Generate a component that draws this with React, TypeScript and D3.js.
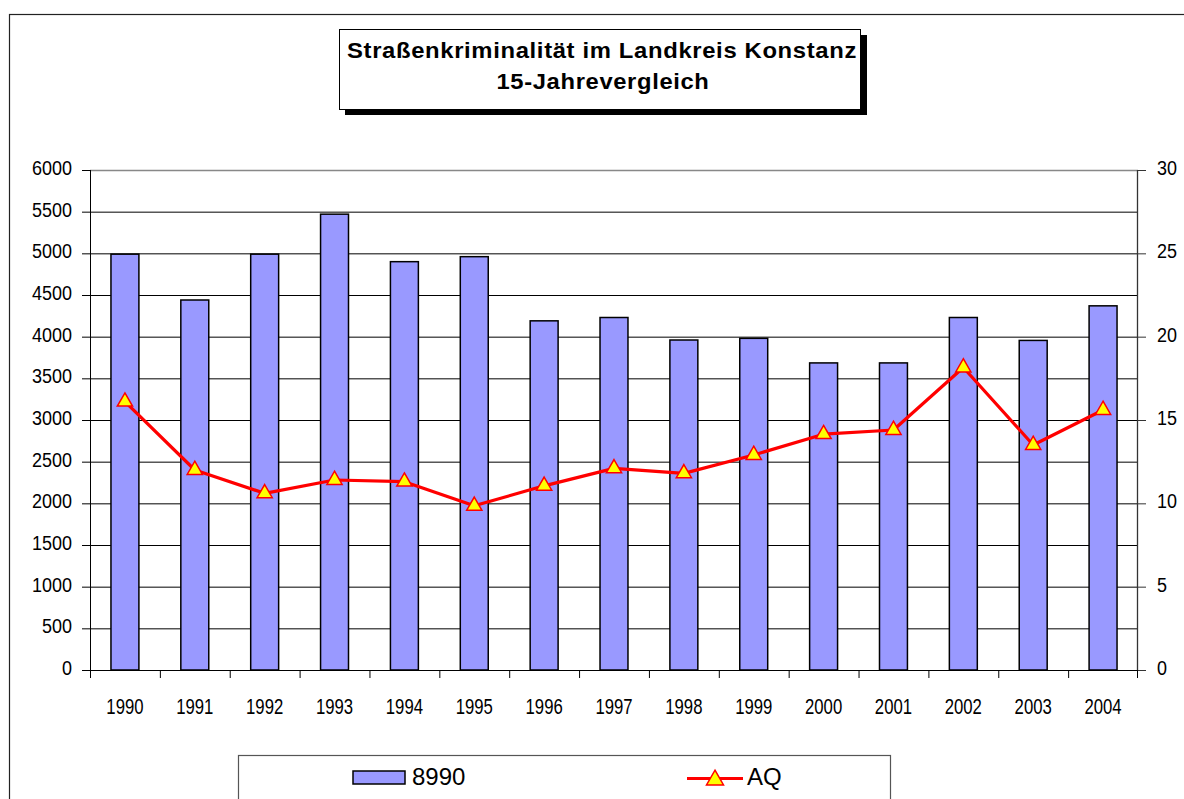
import * as d3 from 'd3'

const years = ['1990', '1991', '1992', '1993', '1994', '1995', '1996', '1997', '1998', '1999', '2000', '2001', '2002', '2003', '2004']
const cases = [4990, 4440, 4990, 5470, 4900, 4960, 4190, 4230, 3960, 3980, 3685, 3685, 4230, 3955, 4370]
const aq = [16.1, 12.0, 10.6, 11.4, 11.3, 9.85, 11.05, 12.1, 11.8, 12.9, 14.15, 14.4, 18.15, 13.5, 15.6]
const leftTicks = [0, 500, 1000, 1500, 2000, 2500, 3000, 3500, 4000, 4500, 5000, 5500, 6000]
const rightTicks = [0, 5, 10, 15, 20, 25, 30]
const titleLines = ['Straßenkriminalität im Landkreis Konstanz', '15-Jahrevergleich']
const barLabel = '8990'
const lineLabel = 'AQ'

const width = 1184
const height = 799
const margin = { top: 170, right: 46, bottom: 129, left: 90 }
const font = 'Liberation Sans, Arial, sans-serif'

export default function App() {
  const x0 = margin.left
  const x1 = width - margin.right
  const yBottom = height - margin.bottom

  const xBand = d3.scaleBand<string>().domain(years).range([x0, x1]).paddingInner(0.6).paddingOuter(0.3)
  const xCat = d3.scaleBand<string>().domain(years).range([x0, x1])
  const yLeft = d3.scaleLinear().domain([0, 6000]).range([yBottom, margin.top])
  const yRight = d3.scaleLinear().domain([0, 30]).range([yBottom, margin.top])

  const line = d3
    .line<number>()
    .x((_, i) => (xCat(years[i]) ?? 0) + xCat.bandwidth() / 2)
    .y((d) => yRight(d))

  const tri = d3.symbol(d3.symbolTriangle, 100)()
  const triLegend = d3.symbol(d3.symbolTriangle, 125)()

  // digit-width squeeze for the narrow axis lettering
  const squeeze = (s: string, w: number) => s.length * w

  return (
    <svg
      width={width}
      height={height}
      style={{ position: 'absolute', left: 0, top: 0, background: '#fff' }}
      fontFamily={font}
    >
      {/* outer chart frame */}
      <rect x={9.5} y={14.5} width={1300} height={900} fill="#fff" stroke="#222" strokeWidth={1.2} />

      {/* title box with shadow */}
      <rect x={345} y={35} width={522} height={80} fill="#000" />
      <rect x={339.5} y={29.5} width={521} height={80} fill="#fff" stroke="#000" strokeWidth={1} />
      <text x={602} y={58} textAnchor="middle" fontSize={22} fontWeight="bold" letterSpacing={0.6} textLength={510} lengthAdjust="spacingAndGlyphs">
        {titleLines[0]}
      </text>
      <text x={603} y={89} textAnchor="middle" fontSize={22} fontWeight="bold" letterSpacing={0.6} textLength={213} lengthAdjust="spacingAndGlyphs">
        {titleLines[1]}
      </text>

      {/* gridlines */}
      {leftTicks.map((t) => (
        <line
          key={'g' + t}
          x1={x0}
          x2={x1}
          y1={yLeft(t) + 0.5}
          y2={yLeft(t) + 0.5}
          stroke={t === 6000 ? '#888' : '#000'}
          strokeWidth={t === 6000 ? 1.5 : 1}
        />
      ))}

      {/* bars */}
      {cases.map((v, i) => (
        <rect
          key={'b' + i}
          x={xBand(years[i])}
          y={yLeft(v)}
          width={xBand.bandwidth()}
          height={yBottom - yLeft(v)}
          fill="#9999ff"
          stroke="#000"
          strokeWidth={1.5}
        />
      ))}

      {/* left axis */}
      <line x1={x0 + 0.5} x2={x0 + 0.5} y1={margin.top} y2={yBottom} stroke="#000" />
      {leftTicks.map((t) => (
        <g key={'l' + t}>
          <line x1={x0 - 8} x2={x0} y1={yLeft(t) + 0.5} y2={yLeft(t) + 0.5} stroke="#000" />
          <text
            x={x0 - 18}
            y={yLeft(t) + 5}
            textAnchor="end"
            fontSize={20}
            textLength={squeeze(String(t), 10)}
            lengthAdjust="spacingAndGlyphs"
          >
            {t}
          </text>
        </g>
      ))}

      {/* right axis */}
      <line x1={x1 - 0.5} x2={x1 - 0.5} y1={margin.top} y2={yBottom} stroke="#333" strokeWidth={1.3} />
      {rightTicks.map((t) => (
        <g key={'r' + t}>
          <line x1={x1} x2={x1 + 8} y1={yRight(t) + 0.5} y2={yRight(t) + 0.5} stroke="#333" />
          <text
            x={x1 + 19}
            y={yRight(t) + 5}
            textAnchor="start"
            fontSize={20}
            textLength={squeeze(String(t), 10)}
            lengthAdjust="spacingAndGlyphs"
          >
            {t}
          </text>
        </g>
      ))}

      {/* bottom axis */}
      <line x1={x0} x2={x1} y1={yBottom + 0.5} y2={yBottom + 0.5} stroke="#000" strokeWidth={1.2} />
      {years.map((y) => (
        <line
          key={'t' + y}
          x1={(xCat(y) ?? 0) + 0.5}
          x2={(xCat(y) ?? 0) + 0.5}
          y1={yBottom}
          y2={yBottom + 8}
          stroke="#000"
        />
      ))}
      <line x1={x1 - 0.5} x2={x1 - 0.5} y1={yBottom} y2={yBottom + 8} stroke="#000" />
      {years.map((y) => (
        <text
          key={'y' + y}
          x={(xCat(y) ?? 0) + xCat.bandwidth() / 2}
          y={yBottom + 44}
          textAnchor="middle"
          fontSize={22}
          textLength={squeeze(y, 9.3)}
          lengthAdjust="spacingAndGlyphs"
        >
          {y}
        </text>
      ))}

      {/* AQ line with triangle markers */}
      <path d={line(aq) ?? ''} fill="none" stroke="#ff0000" strokeWidth={3.2} strokeLinejoin="round" />
      {aq.map((v, i) => (
        <path
          key={'m' + i}
          d={tri ?? ''}
          transform={`translate(${(xCat(years[i]) ?? 0) + xCat.bandwidth() / 2},${yRight(v)})`}
          fill="#ffff00"
          stroke="#ff0000"
          strokeWidth={1.5}
        />
      ))}

      {/* legend */}
      <rect x={238.5} y={755.5} width={652} height={100} fill="#fff" stroke="#555" strokeWidth={1.2} />
      <rect x={353} y={771} width={52} height={13} fill="#9999ff" stroke="#000" strokeWidth={1.5} />
      <text x={412} y={785} fontSize={24}>
        {barLabel}
      </text>
      <line x1={687} x2={743} y1={778.5} y2={778.5} stroke="#ff0000" strokeWidth={3.2} />
      <path d={triLegend ?? ''} transform="translate(715,780)" fill="#ffff00" stroke="#ff0000" strokeWidth={1.5} />
      <text x={747} y={785} fontSize={24}>
        {lineLabel}
      </text>
    </svg>
  )
}
